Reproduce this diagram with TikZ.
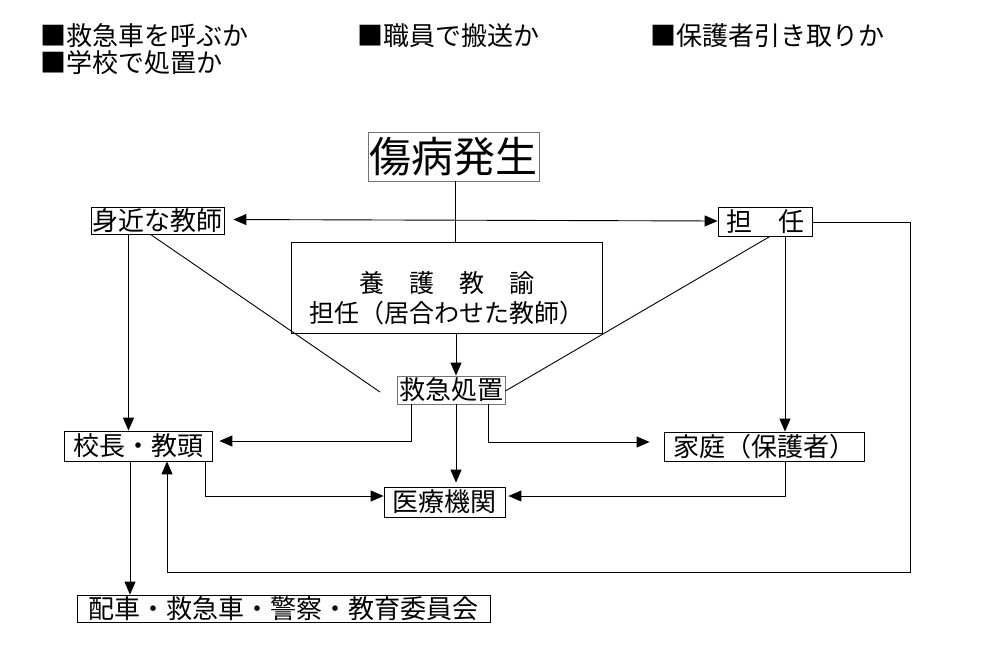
\documentclass[tikz,border=0pt]{standalone}
\usepackage{fontspec}
\setmainfont{Noto Sans CJK JP}
\usepackage{tikz}
\usetikzlibrary{arrows.meta, calc}

\begin{document}
\begin{tikzpicture}[
    x=1pt, y=-1pt,
    box/.style={rectangle, draw, line width=0.8pt, inner sep=0pt, font=\fontsize{26}{30}\selectfont},
    graybox/.style={box, draw=black!55},
    head/.style={anchor=west, inner sep=0pt, font=\fontsize{26}{30}\selectfont},
    line/.style={line width=0.9pt},
    arrow/.style={line width=0.9pt, -{Triangle[length=13pt,width=11pt]}}
]
\useasboundingbox (0,0) rectangle (1008,666);

% Headings
\node[head] (h1) at (40,36) {■救急車を呼ぶか};
\node[head] (h2) at (357,36) {■職員で搬送か};
\node[head] (h3) at (650,36) {■保護者引き取りか};
\node[head] (h4) at (40,63) {■学校で処置か};

% Boxes
\node[graybox, minimum width=171pt, minimum height=49pt, font=\fontsize{42}{46}\selectfont] (hassei) at (453.5,156.5) {傷病発生};
\node[box, minimum width=133pt, minimum height=27pt] (mijika) at (157.5,220.5) {身近な教師};
\node[box, minimum width=94pt, minimum height=29pt] (tannin) at (765,221.5) {担\hspace{1em}任};
\node[box, minimum width=311pt, minimum height=91pt] (yogo) at (446.5,287.5) {};
\node[align=center, inner sep=0pt, font=\fontsize{25}{30}\selectfont] (yogoText) at ([yshift=-11pt]yogo.center) {養　護　教　諭\\ 担任（居合わせた教師）};
\node[graybox, minimum width=108pt, minimum height=28pt] (kyukyu) at (451,390) {救急処置};
\node[box, minimum width=148pt, minimum height=30pt] (kocho) at (138,446) {校長・教頭};
\node[box, minimum width=200pt, minimum height=29pt] (katei) at (764,446.5) {家庭（保護者）};
\node[box, minimum width=121pt, minimum height=30pt] (iryo) at (444.5,502) {医療機関};
\node[box, minimum width=413pt, minimum height=27pt] (haisha) at (283.5,608.5) {配車・救急車・警察・教育委員会};

% Corner points
\coordinate (mijikaEnd) at (380,392);
\coordinate (loopA) at (910,222);
\coordinate (loopB) at (910,572);
\coordinate (loopC) at (167,572);

% Connections
\draw[line] ([xshift=1.5pt]hassei.south) -- ([xshift=1.5pt]hassei.south |- yogo.north);
\draw[arrow, {Triangle[length=13pt,width=11pt]}-{Triangle[length=13pt,width=11pt]}, shorten <=9pt] ([yshift=1pt]mijika.east) -- ([yshift=0.5pt]tannin.west);
\draw[arrow] ([xshift=9.5pt]yogo.south) -- ([xshift=9.5pt]yogo.south |- kyukyu.north);
\draw[line] ([xshift=-7pt]mijika.south) -- (mijikaEnd);
\draw[line] ([xshift=5pt]tannin.south) -- ([yshift=-1pt]kyukyu.east);

\draw[arrow] ([xshift=-29pt]mijika.south) -- ([xshift=-29pt]mijika.south |- kocho.north);
\draw[arrow] ([xshift=20pt]tannin.south) -- ([xshift=20pt]tannin.south |- katei.north);

\draw[arrow, shorten >=7pt] ([xshift=-40pt]kyukyu.south) |- ([yshift=5pt]kocho.east);
\draw[arrow, shorten >=4pt] ([xshift=5pt]kyukyu.south) -- ([xshift=5pt]kyukyu.south |- iryo.north);
\draw[arrow, shorten >=14pt] ([xshift=37pt]kyukyu.south) |- ([yshift=4.5pt]katei.west);

\draw[arrow] ([xshift=67pt]kocho.south) |- ([yshift=6pt]iryo.west);
\draw[arrow, shorten >=3pt] ([xshift=21pt]katei.south) |- ([yshift=6pt]iryo.east);

\draw[arrow] (tannin.east |- loopA) -- (loopA) -- (loopB) -- (loopC) -- (loopC |- kocho.south);
\draw[arrow] ([xshift=-8pt]kocho.south) -- ([xshift=-8pt]kocho.south |- haisha.north);

\end{tikzpicture}
\end{document}
